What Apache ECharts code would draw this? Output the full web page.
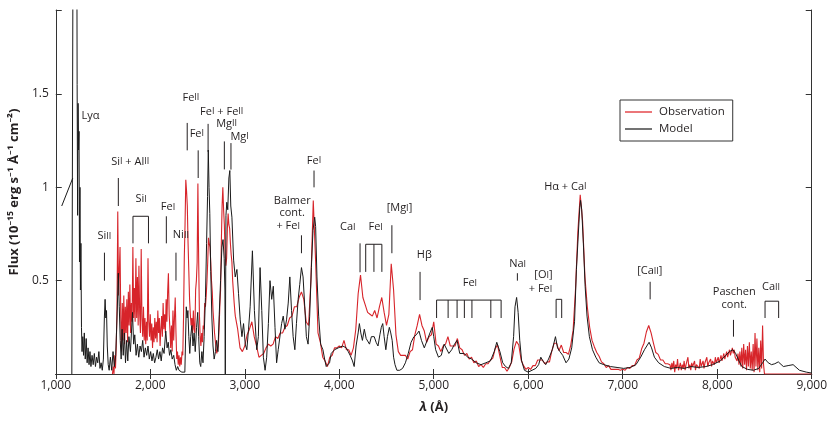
<!DOCTYPE html>
<html lang="en">
<head>
<meta charset="UTF-8">
<title>Spectrum: observation vs model</title>
<script src="https://cdn.jsdelivr.net/npm/echarts@6/dist/echarts.min.js"></script>
<style>
  html, body { margin: 0; padding: 0; background: #fff; }
  #chart { width: 830px; height: 422px; }
</style>
</head>
<body>
<div id="chart"></div>
<script>
// ---- data (wavelength in Angstrom, flux in 1e-15 erg s-1 A-1 cm-2) ----

// model: [lambda, flux]
var modelFlux = [
  [1170,0],[1184,2.6],[1222,2.6],[1226,1.55],[1231,0.85],[1236,1.45],[1241,1.2],[1246,1.3],[1251,0.6],[1256,1.0],
  [1261,0.45],[1266,0.7],[1272,0.25],[1278,0.12],[1286,0.2],[1294,0.1],[1302,0.22],[1312,0.08],[1322,0.19],[1332,0.06],
  [1342,0.14],[1352,0.05],[1362,0.12],[1372,0.04],[1384,0.1],[1396,0.05],[1408,0.11],[1420,0.04],[1432,0.09],[1444,0.06],
  [1456,0.12],[1468,0.03],[1480,0.06],[1492,0.02],[1504,0.08],[1514,0.3],[1522,0.4],[1530,0.3],[1537,0.34],[1545,0.15],
  [1555,0.05],[1565,0.02],[1578,0.09],[1592,0.02],[1606,0.12],[1620,0.04],[1634,0.1],[1648,0.3],[1662,0.54],[1672,0.36],
  [1682,0.18],[1692,0.08],[1702,0.24],[1714,0.1],[1726,0.22],[1738,0.06],[1750,0.18],[1762,0.07],[1774,0.2],[1790,0.12],
  [1812,0.33],[1824,0.16],[1836,0.21],[1850,0.1],[1864,0.16],[1878,0.09],[1892,0.15],[1906,0.12],[1920,0.18],[1934,0.09],
  [1948,0.14],[1962,0.1],[1976,0.15],[1990,0.08],[2004,0.12],[2018,0.07],[2032,0.11],[2046,0.06],[2060,0.09],[2074,0.13],
  [2088,0.08],[2102,0.12],[2116,0.07],[2130,0.14],[2146,0.11],[2164,0.23],[2178,0.14],[2190,0.17],[2204,0.1],[2218,0.13],
  [2232,0.08],[2248,0.1],[2262,0.05],[2276,0.02],[2290,0.04],[2304,0.02],[2318,0.03],[2334,0.01],[2350,0.02],[2366,0.01],
  [2378,0.0],[2381,0.36],[2390,0.3],[2398,0.34],[2408,0.2],[2418,0.11],[2428,0.2],[2440,0.26],[2452,0.15],[2464,0.22],
  [2476,0.12],[2490,0.25],[2502,0.33],[2512,0.2],[2524,0.06],[2534,0.04],[2546,0.12],[2558,0.06],[2570,0.2],[2584,0.41],
  [2596,0.7],[2606,0.95],[2614,1.2],[2622,1.0],[2630,0.86],[2640,0.55],[2652,0.3],[2664,0.15],[2676,0.08],[2690,0.12],
  [2702,0.18],[2716,0.12],[2730,0.32],[2744,0.5],[2758,0.68],[2770,0.72],[2782,0.62],[2790,0.45],[2794,0.0],[2798,0.0],
  [2801,0.85],[2810,0.92],[2820,0.88],[2832,1.05],[2842,1.09],[2852,0.9],[2864,0.84],[2882,0.61],[2899,0.52],[2917,0.56],
  [2934,0.43],[2952,0.29],[2970,0.2],[2987,0.27],[3005,0.16],[3022,0.13],[3040,0.24],[3057,0.36],[3081,0.66],[3102,0.34],
  [3127,0.13],[3144,0.2],[3162,0.57],[3180,0.34],[3197,0.09],[3215,0.02],[3232,0.09],[3250,0.27],[3267,0.5],[3285,0.4],
  [3302,0.47],[3320,0.25],[3337,0.06],[3354,0.13],[3390,0.27],[3407,0.31],[3425,0.24],[3442,0.29],[3460,0.38],[3477,0.52],
  [3495,0.34],[3512,0.2],[3530,0.13],[3547,0.27],[3565,0.4],[3582,0.48],[3600,0.57],[3617,0.52],[3635,0.36],[3652,0.2],
  [3670,0.16],[3687,0.31],[3705,0.57],[3722,0.77],[3740,0.84],[3750,0.79],[3764,0.52],[3782,0.31],[3803,0.16],[3827,0.13],
  [3845,0.08],[3862,0.04],[3880,0.03],[3897,0.06],[3915,0.11],[3935,0.1],[3950,0.13],[3970,0.12],[3990,0.14],[4010,0.13],
  [4036,0.15],[4055,0.16],[4075,0.14],[4095,0.12],[4115,0.1],[4140,0.07],[4158,0.04],[4178,0.15],[4200,0.22],[4213,0.27],
  [4228,0.22],[4245,0.18],[4265,0.24],[4285,0.19],[4300,0.2],[4320,0.16],[4340,0.2],[4355,0.19],[4370,0.2],[4390,0.17],
  [4410,0.15],[4430,0.21],[4445,0.25],[4460,0.27],[4475,0.2],[4493,0.13],[4510,0.2],[4530,0.25],[4545,0.22],[4560,0.18],
  [4575,0.09],[4590,0.05],[4610,0.02],[4640,0.02],[4670,0.03],[4700,0.06],[4730,0.11],[4760,0.17],[4790,0.2],[4815,0.21],
  [4844,0.23],[4870,0.18],[4900,0.14],[4930,0.18],[4960,0.22],[4984,0.25],[5000,0.2],[5020,0.13],[5050,0.09],[5080,0.1],
  [5110,0.16],[5130,0.15],[5160,0.11],[5190,0.13],[5220,0.16],[5247,0.18],[5275,0.11],[5320,0.11],[5360,0.09],[5400,0.08],
  [5450,0.06],[5500,0.05],[5550,0.06],[5600,0.07],[5640,0.12],[5667,0.17],[5700,0.12],[5730,0.06],[5760,0.04],[5790,0.03],
  [5820,0.06],[5845,0.2],[5860,0.36],[5877,0.41],[5893,0.33],[5910,0.18],[5930,0.07],[5960,0.02],[6000,0.01],[6040,0.02],
  [6080,0.03],[6110,0.05],[6133,0.09],[6155,0.07],[6185,0.05],[6215,0.08],[6255,0.13],[6288,0.2],[6310,0.14],[6335,0.12],
  [6365,0.1],[6400,0.06],[6430,0.08],[6460,0.14],[6490,0.28],[6510,0.56],[6530,0.75],[6545,0.89],[6554,0.93],[6566,0.88],
  [6585,0.68],[6602,0.47],[6622,0.31],[6647,0.2],[6680,0.13],[6715,0.09],[6750,0.06],[6800,0.05],[6870,0.04],[6940,0.035],
  [7010,0.03],[7080,0.035],[7140,0.05],[7190,0.09],[7230,0.13],[7279,0.17],[7305,0.14],[7335,0.09],[7380,0.06],[7440,0.04],
  [7510,0.03],[7580,0.035],[7650,0.03],[7720,0.04],[7800,0.035],[7880,0.04],[7950,0.05],[8033,0.07],[8090,0.1],[8130,0.12],
  [8165,0.13],[8195,0.11],[8230,0.07],[8260,0.04],[8320,0.025],[8383,0.02],[8440,0.03],[8480,0.06],[8506,0.08],[8540,0.06],
  [8575,0.05],[8610,0.055],[8646,0.065],[8700,0.04],[8750,0.045],[8803,0.05],[8870,0.02],[8943,0.01],[9000,0.005]
];
// short blue wing of the model left of Ly-alpha
var modelWing = [[1063,0.90],[1180,1.05]];

// observation, UV part: 1600-2896 A on an 8 A grid
var obsUvStart = 1600, obsUvStep = 8;
var obsUvFlux = [
  0.00,0.04,0.00,0.10,0.03,0.15,0.35,0.87,0.42,0.55,
  0.68,0.30,0.12,0.38,0.18,0.42,0.16,0.36,0.22,0.40,
  0.17,0.44,0.26,0.48,0.22,0.38,0.28,0.68,0.30,0.46,
  0.28,0.62,0.30,0.52,0.26,0.58,0.32,0.22,0.67,0.30,
  0.20,0.36,0.18,0.30,0.16,0.28,0.18,0.62,0.28,0.20,
  0.32,0.18,0.27,0.14,0.25,0.17,0.30,0.19,0.28,0.17,
  0.34,0.22,0.30,0.15,0.24,0.31,0.20,0.38,0.24,0.32,
  0.22,0.40,0.28,0.44,0.54,0.32,0.24,0.14,0.26,0.12,
  0.34,0.18,0.30,0.41,0.22,0.08,0.12,0.05,0.10,0.04,
  0.09,0.05,0.12,0.10,0.30,0.62,0.80,1.04,0.98,0.90,
  0.70,0.55,0.40,0.32,0.26,0.30,0.22,0.34,0.24,0.22,
  0.45,0.50,0.60,1.02,0.62,0.32,0.20,0.15,0.22,0.17,
  0.26,0.24,0.38,0.36,0.42,0.50,0.60,0.73,0.70,0.68,
  0.60,0.50,0.44,0.34,0.28,0.22,0.18,0.14,0.11,0.13,
  0.15,0.24,0.36,0.45,0.70,0.90,1.00,0.88,0.80,0.64,
  0.58,0.62,0.78,0.86,0.80,0.78,0.70,0.64,0.60,0.50,
  0.44,0.38,0.33
];
// observation, optical part: 2900-7475 A on a 25 A grid
var obsOptStart = 2900, obsOptStep = 25;
var obsOptFlux = [
  0.31,0.24,0.14,0.12,0.15,0.21,0.24,0.28,0.20,0.15,
  0.09,0.10,0.11,0.14,0.16,0.15,0.16,0.20,0.19,0.22,
  0.22,0.25,0.26,0.30,0.31,0.36,0.36,0.41,0.44,0.40,
  0.28,0.26,0.50,0.93,0.60,0.22,0.17,0.09,0.07,0.04,
  0.09,0.10,0.14,0.14,0.15,0.14,0.18,0.13,0.13,0.10,
  0.14,0.24,0.43,0.53,0.41,0.37,0.33,0.32,0.31,0.34,
  0.30,0.36,0.41,0.33,0.26,0.32,0.59,0.45,0.21,0.12,
  0.10,0.10,0.10,0.08,0.12,0.13,0.21,0.26,0.32,0.26,
  0.23,0.17,0.20,0.21,0.28,0.16,0.15,0.12,0.15,0.16,
  0.20,0.15,0.15,0.15,0.19,0.14,0.13,0.10,0.11,0.08,
  0.09,0.06,0.07,0.04,0.05,0.035,0.055,0.055,0.075,0.085,
  0.135,0.155,0.095,0.035,0.035,0.015,0.035,0.065,0.135,0.175,
  0.155,0.075,0.045,0.025,0.035,0.025,0.045,0.045,0.075,0.075,
  0.075,0.055,0.065,0.065,0.125,0.165,0.165,0.125,0.155,0.115,
  0.115,0.105,0.155,0.235,0.45,0.76,0.96,0.82,0.52,0.36,
  0.25,0.18,0.145,0.115,0.095,0.065,0.055,0.035,0.045,0.025,
  0.025,0.025,0.025,0.02,0.025,0.02,0.035,0.03,0.045,0.045,
  0.075,0.085,0.135,0.165,0.225,0.26,0.22,0.165,0.115,0.105,
  0.075,0.075,0.055,0.055
];
// observation, near-IR part: 7500-8500 A on a 10 A grid
var obsIrStart = 7500, obsIrStep = 10;
var obsIrFlux = [
  0.05,0.02,0.06,0.03,0.07,0.01,0.05,0.03,0.08,0.02,
  0.04,0.06,0.02,0.05,0.03,0.07,0.02,0.05,0.04,0.09,
  0.03,0.05,0.02,0.06,0.04,0.03,0.07,0.02,0.05,0.04,
  0.06,0.03,0.08,0.04,0.05,0.07,0.03,0.06,0.05,0.09,
  0.04,0.06,0.05,0.08,0.04,0.07,0.06,0.05,0.09,0.06,
  0.07,0.09,0.06,0.08,0.10,0.07,0.09,0.11,0.08,0.10,
  0.12,0.09,0.11,0.13,0.10,0.12,0.14,0.11,0.13,0.09,
  0.10,0.07,0.11,0.05,0.12,0.04,0.14,0.03,0.16,0.05,
  0.13,0.02,0.15,0.04,0.17,0.03,0.12,0.02,0.16,0.01,
  0.22,0.04,0.19,0.02,0.14,0.01,0.18,0.03,0.26,0.05,
  0.00
];
var obsTail = [[9000,0]];

// line identifications: [lambda, flux, text, align]
var annoLabels = [
  [1273,1.385,'{n|Lyα}','left'],
  [1515,0.738,'{n|Si}{r|II}'],
  [1788,1.139,'{n|Si}{r|I}{n| + Al}{r|II}'],
  [1904,0.936,'{n|Si}{r|I}'],
  [2188,0.893,'{n|Fe}{r|I}'],
  [2324,0.743,'{n|Ni}{r|II}'],
  [2430,1.481,'{n|Fe}{r|II}'],
  [2493,1.289,'{n|Fe}{r|I}'],
  [2756,1.406,'{n|Fe}{r|I}{n| + Fe}{r|II}'],
  [2808,1.342,'{n|Mg}{r|II}'],
  [2945,1.273,'{n|Mg}{r|I}'],
  [3502,0.930,'{n|Balmer}'],
  [3502,0.861,'{n|cont.}'],
  [3460,0.791,'{n|+ Fe}{r|I}'],
  [3733,1.144,'{n|Fe}{r|I}'],
  [4091,0.786,'{n|Ca}{r|I}'],
  [4385,0.786,'{n|Fe}{r|I}'],
  [4637,0.888,'{n|[Mg}{r|I}{n|]}'],
  [4900,0.636,'{n|Hβ}'],
  [5383,0.487,'{n|Fe}{r|I}'],
  [5888,0.588,'{n|Na}{r|I}'],
  [6161,0.529,'{n|[O}{r|I}{n|]}'],
  [6130,0.455,'{n|+ Fe}{r|I}'],
  [6393,1.005,'{n|Hα + Ca}{r|I}'],
  [7286,0.551,'{n|[Ca}{r|II}{n|]}'],
  [8180,0.439,'{n|Paschen}'],
  [8180,0.369,'{n|cont.}'],
  [8569,0.465,'{n|Ca}{r|II}']
];
// single markers: [lambda, top, bottom]
var annoTicks = [
  [1515,0.65,0.50],[1662,1.05,0.90],[2170,0.845,0.70],[2272,0.65,0.50],
  [2391,1.345,1.198],[2507,1.198,1.05],[2612,1.34,1.19],[2784,1.246,1.096],
  [2854,1.237,1.095],[3600,0.743,0.647],[3733,1.09,1.0],[4220,0.70,0.545],
  [4557,0.797,0.647],[4855,0.547,0.396],[5885,0.54,0.50],[7290,0.494,0.40],
  [8172,0.29,0.20]
];
// brackets: [leg wavelengths, top, bottom]
var annoBrackets = [
  [[1817,1981],0.845,0.70],
  [[4280,4367,4451],0.695,0.547],
  [[5030,5152,5247,5324,5404,5604,5713],0.396,0.30],
  [[6295,6354],0.40,0.30],
  [[8506,8650],0.39,0.30]
];

// ---- build series data ----
function gridded(start, step, flux) {
  return flux.map(function (v, i) { return [start + i * step, v]; });
}
var obsData = gridded(obsUvStart, obsUvStep, obsUvFlux)
  .concat(gridded(obsOptStart, obsOptStep, obsOptFlux))
  .concat(gridded(obsIrStart, obsIrStep, obsIrFlux))
  .concat(obsTail);

var FONT = '"Open Sans", "Noto Sans", sans-serif';
var INK = '#231f20';
var labelRich = {
  n: { fontSize: 11, fontFamily: FONT, color: INK },
  r: { fontSize: 9, fontFamily: FONT, color: INK }
};

var chart = echarts.init(document.getElementById('chart'), null, { renderer: 'canvas' });

var option = {
  animation: false,
  backgroundColor: '#fff',
  grid: { left: 51, right: 18, top: 10, bottom: 48, containLabel: false },
  legend: {
    data: ['Observation', 'Model'],
    orient: 'vertical',
    left: 620,
    top: 100,
    padding: [6, 8, 6, 5],
    itemGap: 5,
    itemWidth: 27,
    itemHeight: 1.5,
    icon: 'rect',
    borderColor: '#333',
    borderWidth: 1,
    textStyle: { fontFamily: FONT, fontSize: 11.5, color: INK, padding: [0, 0, 0, 2] }
  },
  xAxis: [{
    type: 'value', min: 1000, max: 9000, interval: 1000,
    name: '{i|λ} (Å)', nameLocation: 'middle', nameGap: 27,
    nameTextStyle: {
      fontFamily: FONT, fontSize: 13, fontWeight: 'bold', color: INK,
      rich: { i: { fontFamily: FONT, fontSize: 13, fontWeight: 'bold', fontStyle: 'italic', color: INK } }
    },
    axisLine: { show: true, lineStyle: { color: '#333', width: 1 } },
    axisTick: { show: true, inside: true, length: 5, lineStyle: { color: '#333' } },
    axisLabel: {
      fontFamily: FONT, fontSize: 12, color: INK, margin: 6,
      formatter: function (v) { return String(v).replace(/\B(?=(\d{3})+(?!\d))/g, ','); }
    },
    splitLine: { show: false }
  }, {
    type: 'value', min: 1000, max: 9000, interval: 1000, position: 'top',
    axisLine: { show: true, lineStyle: { color: '#333', width: 1 } },
    axisTick: { show: true, inside: true, length: 5, lineStyle: { color: '#333' } },
    axisLabel: { show: false },
    splitLine: { show: false }
  }],
  yAxis: [{
    type: 'value', min: 0, max: 1.95, interval: 0.5,
    name: 'Flux (10⁻¹⁵ erg s⁻¹ Å⁻¹ cm⁻²)', nameLocation: 'middle', nameGap: 33,
    nameTextStyle: { fontFamily: FONT, fontSize: 13, fontWeight: 'bold', color: INK },
    axisLine: { show: true, lineStyle: { color: '#333', width: 1 } },
    axisTick: { show: true, inside: true, length: 6, lineStyle: { color: '#333' } },
    axisLabel: {
      fontFamily: FONT, fontSize: 12, color: INK, margin: 7,
      formatter: function (v) { return (v === 0.5 || v === 1 || v === 1.5) ? String(v) : ''; }
    },
    splitLine: { show: false }
  }, {
    type: 'value', min: 0, max: 1.95, interval: 0.5, position: 'right',
    axisLine: { show: true, lineStyle: { color: '#333', width: 1 } },
    axisTick: { show: true, inside: true, length: 6, lineStyle: { color: '#333' } },
    axisLabel: { show: false },
    splitLine: { show: false }
  }],
  series: [{
    name: 'Observation', type: 'line', data: obsData,
    symbol: 'none', clip: true, z: 2,
    lineStyle: { color: '#d7242a', width: 1.1 },
    itemStyle: { color: '#e4484d' }
  }, {
    name: 'Model', type: 'line', data: modelFlux,
    symbol: 'none', clip: true, z: 3,
    lineStyle: { color: '#1a1a1a', width: 1 },
    itemStyle: { color: '#444' }
  }, {
    name: 'Model wing', type: 'line', data: modelWing,
    symbol: 'none', clip: true, z: 3,
    lineStyle: { color: '#1a1a1a', width: 1 }
  }, {
    type: 'custom', name: 'ticks', silent: true, z: 4,
    data: annoTicks.map(function (d) { return [d[0], d[1]]; }),
    renderItem: function (params, api) {
      var d = annoTicks[params.dataIndex];
      var a = api.coord([d[0], d[1]]), b = api.coord([d[0], d[2]]);
      return { type: 'line', shape: { x1: a[0], y1: a[1], x2: b[0], y2: b[1] },
               style: { stroke: INK, lineWidth: 1 } };
    }
  }, {
    type: 'custom', name: 'brackets', silent: true, z: 4,
    data: annoBrackets.map(function (d) { return [d[0][0], d[1]]; }),
    renderItem: function (params, api) {
      var d = annoBrackets[params.dataIndex];
      var legs = d[0];
      var kids = [];
      var l = api.coord([legs[0], d[1]]), r = api.coord([legs[legs.length - 1], d[1]]);
      kids.push({ type: 'line', shape: { x1: l[0], y1: l[1], x2: r[0], y2: r[1] },
                  style: { stroke: INK, lineWidth: 1 } });
      legs.forEach(function (w) {
        var t = api.coord([w, d[1]]), b = api.coord([w, d[2]]);
        kids.push({ type: 'line', shape: { x1: t[0], y1: t[1], x2: b[0], y2: b[1] },
                    style: { stroke: INK, lineWidth: 1 } });
      });
      return { type: 'group', children: kids };
    }
  }, {
    type: 'custom', name: 'labels', silent: true, z: 5,
    data: annoLabels.map(function (d) { return [d[0], d[1]]; }),
    renderItem: function (params, api) {
      var d = annoLabels[params.dataIndex];
      var p = api.coord([d[0], d[1]]);
      return { type: 'text', x: p[0], y: p[1],
               style: { text: d[2], rich: labelRich, fill: INK, fontSize: 11, fontFamily: FONT,
                        align: d[3] || 'center', verticalAlign: 'middle' } };
    }
  }]
};

chart.setOption(option);
</script>
</body>
</html>
